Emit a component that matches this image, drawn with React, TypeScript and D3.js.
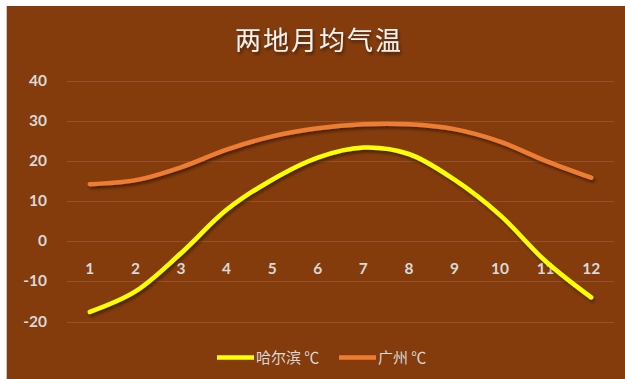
import React, { useEffect, useRef } from "react";
import * as d3 from "d3";

const months = ["1", "2", "3", "4", "5", "6", "7", "8", "9", "10", "11", "12"];
const harbin = [-17.6, -12.5, -3, 7.8, 15.3, 20.8, 23.3, 21.7, 15.3, 6.5, -5, -14];
const guangzhou = [14.2, 15.2, 18.4, 22.8, 26.1, 28.1, 29.1, 29.1, 27.9, 24.8, 20, 15.8];
const yTicks = [-20, -10, 0, 10, 20, 30, 40];
const seriesNames = ["哈尔滨 ℃", "广州 ℃"];
const seriesColors = ["#ffff00", "#ed7d31"];

const W = 625;
const H = 379;

const App = () => {
    const ref = useRef<SVGSVGElement>(null);

    useEffect(() => {
        const svg = d3.select(ref.current);
        svg.selectAll("*").remove();

        const margin = { left: 67, right: 11, top: 80.5, bottom: 57.5 };

        const defs = svg.append("defs");
        const f = defs.append("filter").attr("id", "shadow")
            .attr("x", "-10%").attr("y", "-10%").attr("width", "120%").attr("height", "130%");
        f.append("feDropShadow")
            .attr("dx", 1.5).attr("dy", 2.5).attr("stdDeviation", 1.5)
            .attr("flood-color", "#000").attr("flood-opacity", 0.45);

        // background
        svg.append("rect").attr("width", W).attr("height", H).attr("fill", "#ffffff");
        svg.append("rect")
            .attr("x", 7).attr("y", 6)
            .attr("width", W - 7).attr("height", H - 6)
            .attr("fill", "#843c0c");
        svg.append("line")
            .attr("x1", 6.5).attr("x2", 6.5).attr("y1", 6).attr("y2", H)
            .attr("stroke", "#c9c9c9").attr("stroke-width", 1);

        const xScale = d3.scaleBand()
            .domain(months)
            .range([margin.left, W - margin.right]);

        const yScale = d3.scaleLinear()
            .domain([-20, 40])
            .range([H - margin.bottom, margin.top]);

        // gridlines
        svg.append("g")
            .selectAll("line")
            .data(yTicks)
            .enter()
            .append("line")
            .attr("x1", margin.left)
            .attr("x2", W - margin.right)
            .attr("y1", d => Math.round(yScale(d)) + 0.5)
            .attr("y2", d => Math.round(yScale(d)) + 0.5)
            .attr("stroke", "#96502a")
            .attr("stroke-width", 1);

        // y labels
        svg.append("g")
            .selectAll("text")
            .data(yTicks)
            .enter()
            .append("text")
            .attr("x", 47)
            .attr("y", d => yScale(d) + 5)
            .attr("text-anchor", "end")
            .attr("font-family", "Lato, 'Open Sans', sans-serif")
            .attr("font-weight", "bold")
            .attr("font-size", 15.5)
            .attr("fill", "#d9d9d9")
            .text(d => d);

        // month labels
        svg.append("g")
            .selectAll("text")
            .data(months)
            .enter()
            .append("text")
            .attr("x", d => (xScale(d) as number) + xScale.bandwidth() / 2)
            .attr("y", yScale(0) + 33)
            .attr("text-anchor", "middle")
            .attr("font-family", "Lato, 'Open Sans', sans-serif")
            .attr("font-weight", "bold")
            .attr("font-size", 15.5)
            .attr("fill", "#d9d9d9")
            .text(d => d);

        // lines
        const line = d3.line<number>()
            .x((_, i) => (xScale(months[i]) as number) + xScale.bandwidth() / 2)
            .y(d => yScale(d))
            .curve(d3.curveCatmullRom.alpha(0.5));

        [guangzhou, harbin].forEach((vals, k) => {
            const color = k === 0 ? seriesColors[1] : seriesColors[0];
            svg.append("path")
                .datum(vals)
                .attr("d", line)
                .attr("fill", "none")
                .attr("stroke", color)
                .attr("stroke-width", 4.5)
                .attr("stroke-linecap", "round")
                .attr("stroke-linejoin", "round")
                .attr("filter", "url(#shadow)");
        });

        // title
        svg.append("text")
            .attr("x", 319)
            .attr("y", 50)
            .attr("text-anchor", "middle")
            .attr("font-family", "'Noto Sans CJK SC', sans-serif")
            .attr("font-weight", 400)
            .attr("font-size", 26)
            .attr("letter-spacing", 2)
            .attr("fill", "#f2f2f2")
            .attr("filter", "url(#shadow)")
            .text("两地月均气温");

        // legend
        const legendX = [217, 339];
        seriesNames.forEach((name, i) => {
            const g = svg.append("g").attr("transform", `translate(${legendX[i]}, 357.5)`);
            g.append("line")
                .attr("x1", 0).attr("x2", 37)
                .attr("stroke", seriesColors[i])
                .attr("stroke-width", 4.5);
            g.append("text")
                .attr("x", 39)
                .attr("y", 5.5)
                .attr("font-family", "'Noto Sans CJK SC', sans-serif")
                .attr("font-size", 15)
                .attr("fill", "#d9d9d9")
                .text(name);
        });
    }, []);

    return (
        <svg ref={ref} width={W} height={H}
            style={{ position: "absolute", left: 0, top: 0, display: "block" }} />
    );
};

export default App;
